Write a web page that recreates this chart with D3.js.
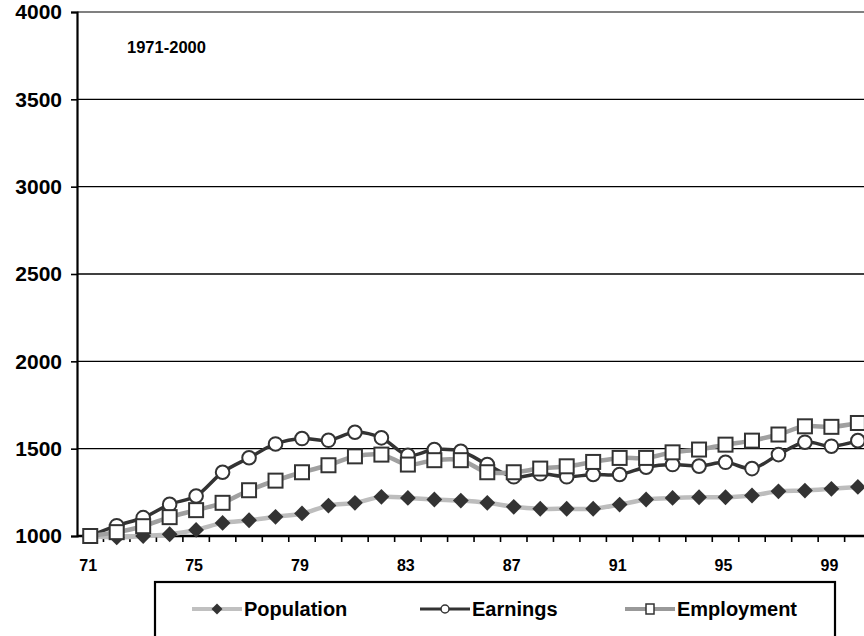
<!DOCTYPE html>
<html>
<head>
<meta charset="utf-8">
<script src="https://cdn.jsdelivr.net/npm/d3@7"></script>
<style>
  body { margin: 0; background: #fff; }
  svg { display: block; font-family: 'Liberation Sans', Arial, sans-serif; font-weight: bold; }
</style>
</head>
<body>
<svg width="864" height="636"></svg>
<script>
var years = [1971, 1972, 1973, 1974, 1975, 1976, 1977, 1978, 1979, 1980,
  1981, 1982, 1983, 1984, 1985, 1986, 1987, 1988, 1989, 1990,
  1991, 1992, 1993, 1994, 1995, 1996, 1997, 1998, 1999, 2000];
var population = [1000, 992, 1000, 1010, 1035, 1075, 1090, 1110, 1129, 1174,
  1190, 1224, 1218, 1209, 1203, 1190, 1167, 1156, 1156, 1156,
  1180, 1209, 1218, 1222, 1222, 1232, 1256, 1260, 1270, 1281];
var earnings = [1000, 1059, 1105, 1181, 1229, 1365, 1448, 1527, 1558, 1548,
  1594, 1562, 1462, 1495, 1485, 1409, 1339, 1356, 1339, 1352,
  1352, 1394, 1409, 1400, 1422, 1386, 1466, 1537, 1514, 1546];
var employment = [1000, 1022, 1056, 1108, 1148, 1190, 1262, 1317, 1365, 1405,
  1456, 1466, 1409, 1434, 1434, 1365, 1365, 1386, 1399, 1424,
  1447, 1447, 1479, 1495, 1523, 1546, 1581, 1628, 1625, 1647];
var yTicks = [1000, 1500, 2000, 2500, 3000, 3500, 4000];
var xLabels = [1971, 1975, 1979, 1983, 1987, 1991, 1995, 1999];
var seriesNames = ['Population', 'Earnings', 'Employment'];

function drawChart() {
  'use strict';
  var svg = d3.select('svg');
  var margin = {top: 12, left: 77, bottom: 100};
  var bandW = 26.47;
  var plotRight = margin.left + bandW * years.length;
  var plotBottom = 536;

  var x = d3.scaleBand().domain(years).range([margin.left, plotRight]);
  var y = d3.scaleLinear().domain([1000, 4000]).range([plotBottom, margin.top]);
  var cx = function (yr) { return x(yr) + x.bandwidth() / 2; };

  // gridlines
  svg.append('g').selectAll('line').data(yTicks.filter(function (d) { return d > 1000; }))
    .enter().append('line')
    .attr('x1', margin.left).attr('x2', plotRight)
    .attr('y1', function (d) { return y(d); }).attr('y2', function (d) { return y(d); })
    .style('stroke', function (d) { return d === 4000 ? '#808080' : '#000'; })
    .style('stroke-width', function (d) { return d === 4000 ? 2.2 : 1.4; });

  // y axis
  var yAxis = svg.append('g')
    .attr('transform', 'translate(' + margin.left + ',0)')
    .call(d3.axisLeft(y).tickValues(yTicks).tickSize(6).tickPadding(9).tickFormat(d3.format('d')));
  yAxis.select('.domain').style('stroke', '#000').style('stroke-width', 2.2);
  yAxis.selectAll('.tick line').style('stroke', '#000').style('stroke-width', 1.6);
  yAxis.selectAll('.tick text')
    .style('font-size', '21px').style('font-family', 'Liberation Sans, Arial, sans-serif')
    .style('font-weight', 'bold').style('fill', '#000');

  // x axis
  var xg = svg.append('g');
  xg.append('line')
    .attr('x1', margin.left).attr('x2', plotRight)
    .attr('y1', plotBottom).attr('y2', plotBottom)
    .style('stroke', '#000').style('stroke-width', 2.4);
  xg.selectAll('.xt').data(years.slice(1))
    .enter().append('line')
    .attr('class', 'xt')
    .attr('x1', function (d) { return x(d); }).attr('x2', function (d) { return x(d); })
    .attr('y1', plotBottom).attr('y2', plotBottom + 6)
    .style('stroke', '#000').style('stroke-width', 1.6);
  xg.selectAll('text').data(xLabels)
    .enter().append('text')
    .attr('x', function (d) { return cx(d) - 2; })
    .attr('y', 571)
    .attr('text-anchor', 'middle')
    .style('font-size', '16px')
    .text(function (d) { return String(d).slice(2); });

  // period label
  svg.append('text')
    .attr('x', 127).attr('y', 53)
    .style('font-size', '16.5px')
    .text('1971-2000');

  var smooth = d3.line()
    .x(function (d, i) { return cx(years[i]); })
    .y(function (d) { return y(d); })
    .curve(d3.curveCatmullRom.alpha(0.5));

  // Population
  svg.append('path').datum(population)
    .attr('d', smooth)
    .style('fill', 'none').style('stroke', '#bdbdbd').style('stroke-width', 4.5);
  svg.append('g').selectAll('path').data(population)
    .enter().append('path')
    .attr('d', d3.symbol().type(d3.symbolSquare).size(125))
    .attr('transform', function (d, i) { return 'translate(' + cx(years[i]) + ',' + y(d) + ') rotate(45)'; })
    .style('fill', '#333');

  // Earnings
  svg.append('path').datum(earnings)
    .attr('d', smooth)
    .style('fill', 'none').style('stroke', '#333').style('stroke-width', 3.5);
  svg.append('g').selectAll('circle').data(earnings)
    .enter().append('circle')
    .attr('cx', function (d, i) { return cx(years[i]); })
    .attr('cy', function (d) { return y(d); })
    .attr('r', 6.8)
    .style('fill', '#fff').style('stroke', '#333').style('stroke-width', 2);

  // Employment
  svg.append('path').datum(employment)
    .attr('d', smooth)
    .style('fill', 'none').style('stroke', '#a0a0a0').style('stroke-width', 4.5);
  svg.append('g').selectAll('rect').data(employment)
    .enter().append('rect')
    .attr('x', function (d, i) { return cx(years[i]) - 7; })
    .attr('y', function (d) { return y(d) - 7; })
    .attr('width', 14).attr('height', 14)
    .style('fill', '#fff').style('stroke', '#333').style('stroke-width', 2);

  // legend
  var legend = svg.append('g');
  legend.append('rect')
    .attr('x', 155).attr('y', 582).attr('width', 680).attr('height', 80)
    .style('fill', '#fff').style('stroke', '#000').style('stroke-width', 2.2);
  var items = [
    {name: seriesNames[0], x0: 192, stroke: '#c0c0c0', w: 4},
    {name: seriesNames[1], x0: 420, stroke: '#333', w: 3},
    {name: seriesNames[2], x0: 625, stroke: '#999', w: 4}
  ];
  var ly = 609;
  items.forEach(function (it, k) {
    legend.append('line')
      .attr('x1', it.x0).attr('x2', it.x0 + 50)
      .attr('y1', ly).attr('y2', ly)
      .style('stroke', it.stroke).style('stroke-width', it.w);
    var mx = it.x0 + 25;
    if (k === 0) {
      legend.append('path')
        .attr('d', d3.symbol().type(d3.symbolSquare).size(60))
        .attr('transform', 'translate(' + mx + ',' + ly + ') rotate(45)')
        .style('fill', '#333');
    } else if (k === 1) {
      legend.append('circle').attr('cx', mx).attr('cy', ly).attr('r', 4)
        .style('fill', '#fff').style('stroke', '#333').style('stroke-width', 1.5);
    } else {
      legend.append('rect').attr('x', mx - 4).attr('y', ly - 5).attr('width', 8).attr('height', 10)
        .style('fill', '#fff').style('stroke', '#333').style('stroke-width', 1.5);
    }
    legend.append('text')
      .attr('x', it.x0 + 52).attr('y', 616)
      .style('font-size', '20px')
      .text(it.name);
  });
}

drawChart();
</script>
</body>
</html>
